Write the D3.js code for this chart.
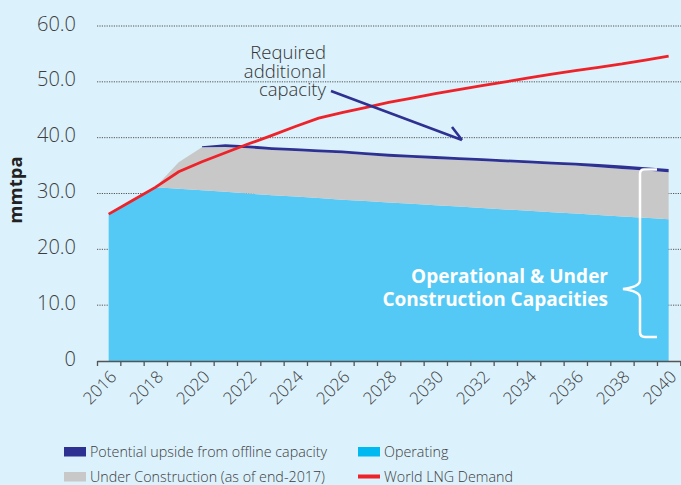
<!DOCTYPE html>
<html>
<head>
<meta charset="utf-8">
<script src="https://cdn.jsdelivr.net/npm/d3@7"></script>
<style>
  body { margin: 0; background: #dbf1fc; }
  svg { display: block; font-family: "Open Sans", sans-serif; }
</style>
</head>
<body>
<div id="chart"></div>
<script>
// data (mmtpa)
const years = d3.range(2016, 2041);
const operating = [26.3, 28.7, 31.1, 30.85, 30.6, 30.3, 30.0, 29.7, 29.45, 29.2, 28.9, 28.65, 28.4,
  28.15, 27.9, 27.65, 27.4, 27.15, 26.9, 26.65, 26.4, 26.15, 25.9, 25.65, 25.4];
const underConstruction = [0, 0, 0, 4.75, 7.7, 8.05, 8.1, 8.1, 8.15, 8.2, 8.3, 8.25, 8.2,
  8.25, 8.3, 8.35, 8.4, 8.45, 8.5, 8.55, 8.6, 8.55, 8.5, 8.45, 8.4];
const upside = [0, 0, 0, 0, 0.15, 0.45, 0.5, 0.5, 0.5, 0.5, 0.5, 0.5, 0.5,
  0.5, 0.5, 0.5, 0.5, 0.5, 0.5, 0.5, 0.5, 0.6, 0.6, 0.6, 0.6];
const demand = [26.3, 28.7, 31.1, 33.9, 35.7, 37.3, 38.9, 40.4, 42.0, 43.5, 44.5, 45.4, 46.3,
  47.1, 47.9, 48.6, 49.3, 50.0, 50.7, 51.4, 52.0, 52.6, 53.2, 53.9, 54.6];
const yTicks = [0, 10, 20, 30, 40, 50, 60];
const labelYears = d3.range(2016, 2041, 2);

const legendItems = [
  { name: "Potential upside from offline capacity", color: "#2e3192", type: "box" },
  { name: "Under Construction (as of end-2017)", color: "#c8c8c9", type: "box" },
  { name: "Operating", color: "#00b9f1", type: "box" },
  { name: "World LNG Demand", color: "#ee2229", type: "line" }
];

const width = 681, height = 485;
const textColor = "#3d3d3d";

const svg = d3.select("#chart").append("svg")
  .attr("width", width)
  .attr("height", height);

svg.append("rect").attr("width", width).attr("height", height).attr("fill", "#dbf1fc");

const x = d3.scaleLinear().domain([2015.5, 2040.5]).range([97, 680.3]);
const y = d3.scaleLinear().domain([0, 60]).range([361, 26]);

// gridlines
svg.append("g")
  .selectAll("line")
  .data(yTicks.filter(d => d > 0))
  .join("line")
  .attr("x1", 97).attr("x2", width)
  .attr("y1", d => y(d)).attr("y2", d => y(d))
  .attr("stroke", "#555")
  .attr("stroke-width", 1)
  .attr("stroke-dasharray", "1.2,1.2");

// stacked areas
const rows = years.map((yr, i) => ({
  year: yr, operating: operating[i], underConstruction: underConstruction[i], upside: upside[i]
}));
const series = d3.stack().keys(["operating", "underConstruction", "upside"])(rows);
const fills = { operating: "#55c9f5", underConstruction: "#c8c8c9", upside: "#2e3192" };

const area = d3.area()
  .x(d => x(d.data.year))
  .y0(d => y(d[0]))
  .y1(d => y(d[1]));

svg.append("g")
  .selectAll("path")
  .data(series)
  .join("path")
  .attr("fill", d => fills[d.key])
  .attr("d", d => d.key == "upside" ? area(d.filter(p => p.data.year >= 2020)) : area(d));

// demand line
svg.append("path")
  .datum(years.map((yr, i) => [yr, demand[i]]))
  .attr("fill", "none")
  .attr("stroke", "#ee2229")
  .attr("stroke-width", 2.8)
  .attr("d", d3.line().x(d => x(d[0])).y(d => y(d[1])));

// x axis
const xAxis = svg.append("g")
  .attr("transform", `translate(0,${y(0)})`)
  .call(d3.axisBottom(x)
    .tickValues(d3.range(2015.5, 2040.6, 1))
    .tickFormat("")
    .tickSize(5)
    .tickSizeOuter(0));
xAxis.select(".domain").attr("stroke", "#555").attr("stroke-width", 1.3);
xAxis.selectAll(".tick line").attr("stroke", "#555").attr("stroke-width", 1.3);

svg.append("g")
  .selectAll("text")
  .data(labelYears)
  .join("text")
  .attr("transform", d => `translate(${x(d) + 9},${y(0) + 17}) rotate(-45)`)
  .attr("text-anchor", "end")
  .attr("fill", textColor)
  .style("font-size", "17px")
  .style("font-weight", 300)
  .text(d => d);

// y tick labels
svg.append("g")
  .selectAll("text")
  .data(yTicks)
  .join("text")
  .attr("x", 76)
  .attr("y", d => y(d) - 2.5)
  .attr("dy", "0.35em")
  .attr("text-anchor", "end")
  .attr("fill", textColor)
  .style("font-size", "20px")
  .style("font-weight", 300)
  .text(d => d == 0 ? "0" : d3.format(".1f")(d));

// y title
svg.append("text")
  .attr("transform", "translate(22,190) rotate(-90)")
  .attr("text-anchor", "middle")
  .attr("fill", "#222")
  .style("font-size", "18.5px")
  .style("font-weight", 700)
  .text("mmtpa");

// annotation: required additional capacity
const note = svg.append("text")
  .attr("text-anchor", "end")
  .attr("fill", "#333")
  .style("font-size", "18.5px")
  .style("font-weight", 300);
["Required", "additional", "capacity"].forEach((t, i) => {
  note.append("tspan").attr("x", 326).attr("y", 59 + i * 18.7).text(t);
});

svg.append("path")
  .attr("d", "M331,91 L462,140 M452,127 L462,140")
  .attr("fill", "none")
  .attr("stroke", "#2e3192")
  .attr("stroke-width", 2.6);

// brace + label
svg.append("path")
  .attr("d", "M657,169.5 L644,169.5 Q640,169.5 640,174 L640,280 Q640,287 623,289 Q640,291 640,298 L640,332 Q640,337 645,337 L657,337")
  .attr("fill", "none")
  .attr("stroke", "#fff")
  .attr("stroke-width", 2.5);

const brace = svg.append("text")
  .attr("text-anchor", "end")
  .attr("fill", "#fff")
  .style("font-size", "19px")
  .style("font-weight", 700);
["Operational & Under", "Construction Capacities"].forEach((t, i) => {
  brace.append("tspan").attr("x", 608).attr("y", 283 + i * 23).text(t);
});

// legend
const legend = svg.append("g")
  .selectAll("g")
  .data(legendItems)
  .join("g")
  .attr("transform", (d, i) => `translate(${i < 2 ? 64 : 358},${i % 2 == 0 ? 447 : 472})`);

legend.append("rect")
  .attr("y", d => d.type == "line" ? 2.5 : 0)
  .attr("width", 22)
  .attr("height", d => d.type == "line" ? 4 : 9.5)
  .attr("fill", d => d.color);

legend.append("text")
  .attr("x", 26)
  .attr("y", 9.8)
  .attr("fill", textColor)
  .style("font-size", "14.3px")
  .style("font-weight", 300)
  .text(d => d.name);
</script>
</body>
</html>
